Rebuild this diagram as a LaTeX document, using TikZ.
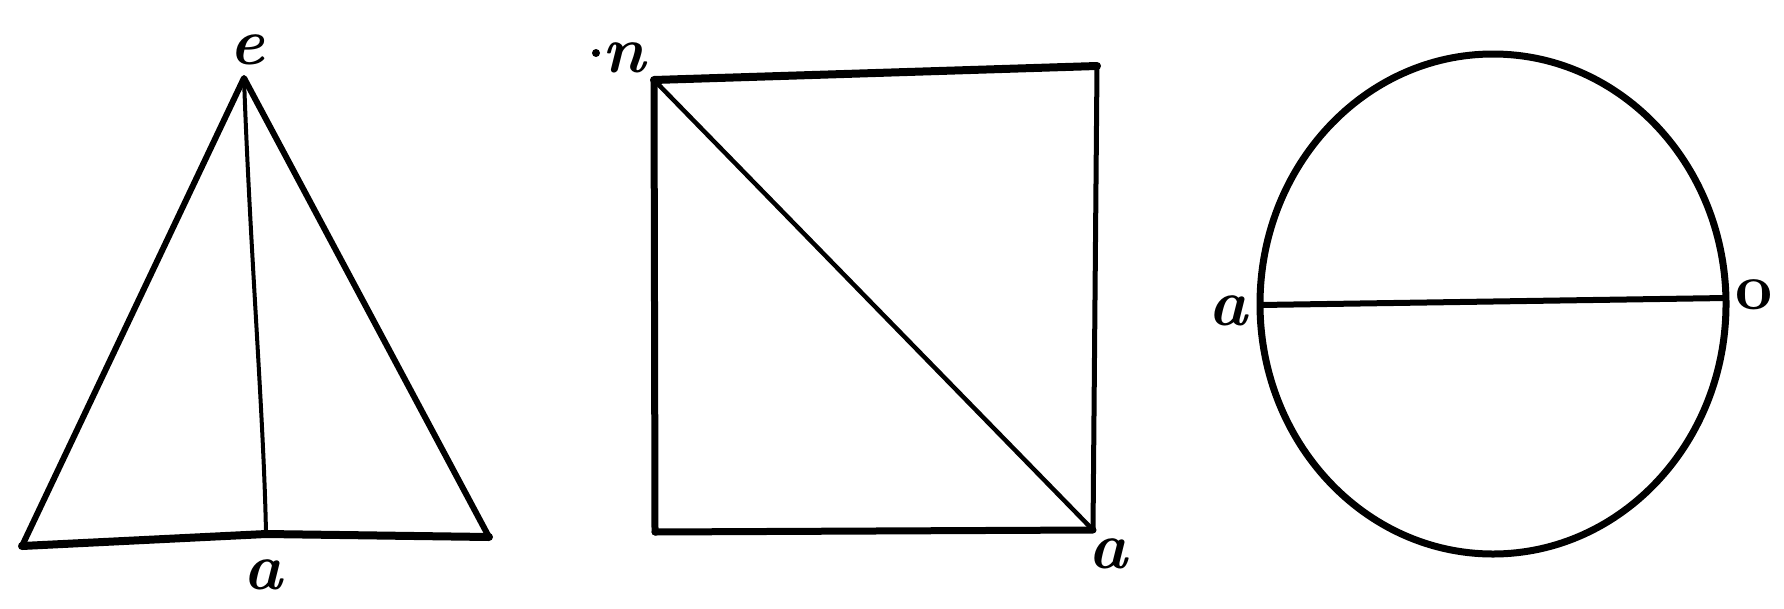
\documentclass[tikz,border=0pt]{standalone}
\usetikzlibrary{calc}
\begin{document}
\begin{tikzpicture}[x=1pt,y=-1pt,
  ink/.style={line width=#1, line cap=round, line join=round},
  lbl/.style={font=\fontsize{66}{66}\selectfont\bfseries\itshape, inner sep=0pt}]
\useasboundingbox (0,0) rectangle (1784,608);
% triangle
\coordinate (E) at (244,78);
\coordinate (BL) at (22,546);
\coordinate (BR) at (489,537);
\coordinate (M) at (266,534);
\draw[ink=6pt] (BL) -- (E) -- (BR);
\draw[ink=8pt] (BL) -- (M) -- (BR);
\draw[ink=4pt] (E) .. controls (250,250) and (264,420) .. (M);
\node[lbl] (le) at (247,50) {e};
\node[lbl] (la1) at (263,575) {a};
% rectangle
\coordinate (TL) at (654,80);
\coordinate (TR) at (1097,66);
\coordinate (BRr) at (1093,530);
\coordinate (BLr) at (655,532);
\draw[ink=8pt] (TL) -- (TR);
\draw[ink=5pt] (TR) -- (BRr);
\draw[ink=7pt] (BRr) -- (BLr);
\draw[ink=7pt] (BLr) -- (TL);
\draw[ink=4.5pt] (TL) -- (BRr);
\node[lbl] (ln) at (624,58) {n};
\fill (596,53) circle (4pt);
\node[lbl] (la2) at (1108,554) {a};
% ellipse
\coordinate (C) at (1493,304);
\draw[ink=7pt] (C) ellipse [x radius=233, y radius=250];
\coordinate (DL) at (1260,305);
\coordinate (DR) at (1726,298);
\draw[ink=6pt] (DL) -- (DR);
\node[lbl] (la3) at (1228,311) {a};
\node[lbl, font=\fontsize{66}{66}\selectfont\bfseries] (lo) at (1754,295) {o};
\end{tikzpicture}
\end{document}
